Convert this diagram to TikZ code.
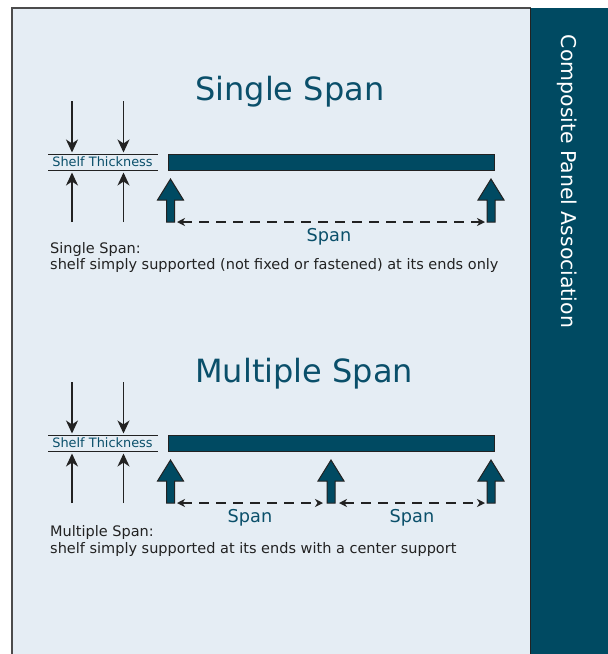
\documentclass[tikz,border=0pt]{standalone}
\usepackage{fontspec}
\setmainfont{DejaVu Sans}
\usetikzlibrary{arrows.meta}
\definecolor{cpateal}{HTML}{004A62}
\definecolor{cpatext}{HTML}{0A4F6A}
\definecolor{bglight}{HTML}{E5EDF4}
\definecolor{inkdark}{HTML}{222222}
\tikzset{
  titletext/.style={text=cpatext, font=\fontsize{32}{36}\selectfont, inner sep=0pt, anchor=base west},
  bodytext/.style={text=inkdark, font=\fontsize{14.5}{17}\selectfont, inner sep=0pt, anchor=base west},
  shelftext/.style={text=cpatext, font=\fontsize{12.9}{15}\selectfont, inner sep=0pt, anchor=base},
  spantext/.style={text=cpatext, font=\fontsize{17.7}{20}\selectfont, inner sep=0pt, anchor=base},
  thickarrow/.style={draw=inkdark, line width=1.6pt, -{Stealth[length=13pt,width=12pt,inset=4pt]}},
  thinline/.style={draw=inkdark, line width=1pt},
  beamstyle/.style={fill=cpateal, draw=inkdark, line width=1pt},
  supportstyle/.style={fill=cpateal, draw=inkdark, line width=1pt, line join=miter},
  spanarrow/.style={draw=inkdark, line width=1.5pt, dash pattern=on 10pt off 7pt, {Stealth[length=8pt,width=8pt,inset=2.5pt]}-{Stealth[length=8pt,width=8pt,inset=2.5pt]}},
}
% support arrow: #1 centre x, #2 tip y
\newcommand{\supportarrow}[2]{%
  \path[supportstyle] (#1,#2) -- (#1+13,#2+21) -- (#1+4,#2+21) -- (#1+4,#2+43)
    -- (#1-4,#2+43) -- (#1-4,#2+21) -- (#1-13,#2+21) -- cycle;}
\begin{document}
\begin{tikzpicture}[x=1pt,y=-1pt]
\useasboundingbox (0,0) rectangle (608,654);
\fill[white] (0,0) rectangle (608,654);
\fill[bglight] (12,8) rectangle (531,654);
\draw[gray!60!black, line width=1.3pt] (12,654) -- (12,8) -- (531,8);
\fill[cpateal] (531,8) rectangle (608,654);
\draw[inkdark, line width=1pt] (530.5,8) -- (530.5,654);
\node[rotate=-90, text=white, font=\fontsize{20.4}{24}\selectfont, inner sep=0pt] (side) at (567,181.5) {Composite Panel Association};

% ---------------- Single span ----------------
\node[titletext] (t1) at (195,100.7) {Single Span};
\path[thinline] (48,154.5) -- (157.5,154.5);
\path[thinline] (48,170.5) -- (157.5,170.5);
\node[shelftext] (sh1) at (102.5,166.7) {Shelf Thickness};
\coordinate (a1t) at (72,101);
\coordinate (a1b) at (72,152.5);
\coordinate (b1t) at (123.5,101);
\coordinate (b1b) at (123.5,152.5);
\coordinate (c1t) at (72,222);
\coordinate (c1b) at (72,172.5);
\coordinate (d1t) at (123.5,222);
\coordinate (d1b) at (123.5,172.5);
\draw[thickarrow] (a1t) -- (a1b);
\draw[thickarrow] (b1t) -- (b1b);
\draw[thickarrow] (c1t) -- (c1b);
\draw[thickarrow] (d1t) -- (d1b);
\path[beamstyle] (168.5,154.5) rectangle (494,170.5);
\supportarrow{170.5}{179}
\supportarrow{491}{179}
\coordinate (s1l) at (177,222);
\coordinate (s1r) at (485,222);
\draw[spanarrow] (s1l) -- (s1r);
\node[spantext] (sp1) at (329,241.5) {Span};
\node[bodytext] (x1) at (50,253.3) {Single Span:};
\node[bodytext] (y1) at (50,269.3) {shelf simply supported (not fixed or fastened) at its ends only};

% ---------------- Multiple span ----------------
\node[titletext] (t2) at (195,382) {Multiple Span};
\path[thinline] (48,435.5) -- (157.5,435.5);
\path[thinline] (48,451.5) -- (157.5,451.5);
\node[shelftext] (sh2) at (102.5,447.7) {Shelf Thickness};
\coordinate (a2t) at (72,382);
\coordinate (a2b) at (72,433.5);
\coordinate (b2t) at (123.5,382);
\coordinate (b2b) at (123.5,433.5);
\coordinate (c2t) at (72,503);
\coordinate (c2b) at (72,453.5);
\coordinate (d2t) at (123.5,503);
\coordinate (d2b) at (123.5,453.5);
\draw[thickarrow] (a2t) -- (a2b);
\draw[thickarrow] (b2t) -- (b2b);
\draw[thickarrow] (c2t) -- (c2b);
\draw[thickarrow] (d2t) -- (d2b);
\path[beamstyle] (168.5,435.5) rectangle (494,451.5);
\supportarrow{170.5}{460}
\supportarrow{331}{460}
\supportarrow{491}{460}
\coordinate (s2a) at (177,503);
\coordinate (s2b) at (323,503);
\coordinate (s2c) at (339,503);
\coordinate (s2d) at (485,503);
\draw[spanarrow] (s2a) -- (s2b);
\draw[spanarrow] (s2c) -- (s2d);
\node[spantext] (sp2) at (250,522.5) {Span};
\node[spantext] (sp3) at (412,522.5) {Span};
\node[bodytext] (x2) at (50,536.7) {Multiple Span:};
\node[bodytext] (y2) at (50,553.3) {shelf simply supported at its ends with a center support};
\end{tikzpicture}
\end{document}
